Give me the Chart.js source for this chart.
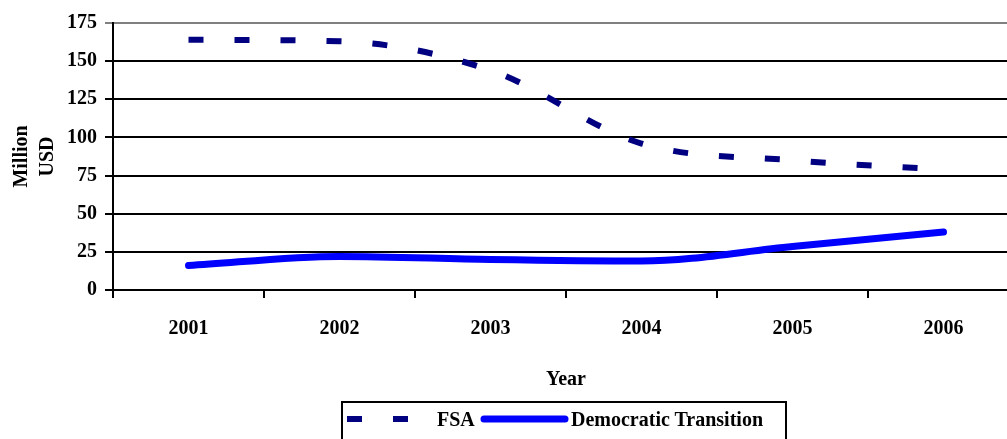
<!DOCTYPE html>
<html>
<head>
<meta charset="utf-8">
<script src="https://cdn.jsdelivr.net/npm/chart.js@4"></script>
<style>
  html, body { margin: 0; padding: 0; background: #fff; overflow: hidden; }
  #wrap { position: relative; width: 1020px; height: 439px; }
  #legend {
    position: absolute; left: 341px; top: 401px; width: 446px; height: 50px;
    border: 2px solid #000; box-sizing: border-box;
    font: bold 20px "Liberation Serif", serif; color: #000;
  }
  #legend .item { position: absolute; top: 4px; height: 24px; line-height: 24px; white-space: nowrap; }
</style>
</head>
<body>
<div id="wrap">
  <canvas id="chart" width="1020" height="439"></canvas>
  <div id="legend"></div>
</div>
<script>
// chart data
const years = ['2001', '2002', '2003', '2004', '2005', '2006'];
const fsa = [164, 163, 144, 96, 85, 79];
const democraticTransition = [16, 22, 20, 19, 28.5, 38];
const yTicks = [0, 25, 50, 75, 100, 125, 150, 175];

const FONT = '"Liberation Serif", serif';

const ctx = document.getElementById('chart').getContext('2d');

const chart = new Chart(ctx, {
    type: 'line',
    data: {
        labels: years,
        datasets: [{
            label: 'FSA',
            data: fsa,
            borderColor: '#000080',
            borderWidth: 6,
            borderDash: [15, 31],
            borderCapStyle: 'butt',
            cubicInterpolationMode: 'monotone',
            pointRadius: 0,
            fill: false
        }, {
            label: 'Democratic Transition',
            data: democraticTransition,
            borderColor: '#0000FF',
            borderWidth: 7,
            borderCapStyle: 'round',
            borderJoinStyle: 'round',
            cubicInterpolationMode: 'monotone',
            pointRadius: 0,
            fill: false
        }]
    },
    options: {
        responsive: false,
        animation: false,
        layout: { padding: { top: 23, right: 1, bottom: 39, left: 0 } },
        plugins: {
            legend: { display: false },
            tooltip: { enabled: false }
        },
        scales: {
            x: {
                offset: true,
                border: { color: '#000', width: 2 },
                grid: {
                    offset: true,
                    drawOnChartArea: false,
                    drawTicks: true,
                    tickLength: 8,
                    color: '#000',
                    lineWidth: 2
                },
                ticks: {
                    color: '#000',
                    padding: 19,
                    font: { family: FONT, size: 20, weight: 'bold' }
                },
                title: {
                    display: true,
                    text: 'Year',
                    color: '#000',
                    padding: { top: 0, bottom: 8 },
                    font: { family: FONT, size: 20, weight: 'bold' }
                },
                afterFit: scale => { scale.height = 110; }
            },
            y: {
                min: 0,
                max: 175,
                afterBuildTicks: scale => {
                    scale.ticks = yTicks.map(v => ({ value: v }));
                },
                border: { color: '#000', width: 2 },
                grid: {
                    color: c => (c.tick && c.tick.value === 175 ? '#808080' : '#000'),
                    lineWidth: 2,
                    tickLength: 8
                },
                ticks: {
                    color: '#000',
                    padding: 8,
                    font: { family: FONT, size: 20, weight: 'bold' }
                },
                title: {
                    display: true,
                    text: ['Million', 'USD'],
                    color: '#000',
                    padding: { top: 9, bottom: 0 },
                    font: { family: FONT, size: 20, weight: 'bold', lineHeight: 1.3 }
                },
                afterFit: scale => { scale.width = 113; }
            }
        }
    }
});

// legend built from the datasets
const legend = document.getElementById('legend');
const samplePos = [{ sample: 4, text: 94 }, { sample: 137, text: 228 }];
chart.data.datasets.forEach((ds, i) => {
    const p = samplePos[i];
    const svg = document.createElementNS('http://www.w3.org/2000/svg', 'svg');
    svg.setAttribute('width', '92');
    svg.setAttribute('height', '24');
    svg.style.position = 'absolute';
    svg.style.left = p.sample + 'px';
    svg.style.top = '4px';
    const line = document.createElementNS('http://www.w3.org/2000/svg', 'line');
    const pad = ds.borderCapStyle === 'round' ? 4 : 0;
    line.setAttribute('x1', pad);
    line.setAttribute('x2', ds.borderDash ? 62 : 85);
    line.setAttribute('y1', 12);
    line.setAttribute('y2', 12);
    line.setAttribute('stroke', ds.borderColor);
    line.setAttribute('stroke-width', ds.borderWidth);
    line.setAttribute('stroke-linecap', ds.borderCapStyle);
    if (ds.borderDash) line.setAttribute('stroke-dasharray', ds.borderDash.join(' '));
    svg.appendChild(line);
    legend.appendChild(svg);

    const label = document.createElement('div');
    label.className = 'item';
    label.style.left = p.text + 'px';
    label.textContent = ds.label;
    legend.appendChild(label);
});
</script>
</body>
</html>
